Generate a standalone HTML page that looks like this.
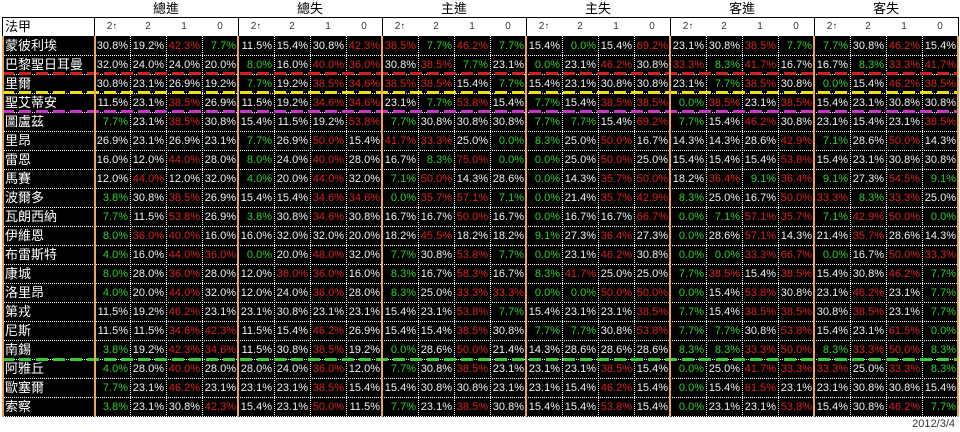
<!DOCTYPE html>
<html><head><meta charset="utf-8">
<style>
html,body{margin:0;padding:0;background:#fff;width:960px;height:432px;overflow:hidden;position:relative}
svg{position:absolute;left:0;top:0}
table{position:absolute;left:2px;border-collapse:separate;border-spacing:0;table-layout:fixed;width:956px}
table.h{top:0}
table.h td{padding:0;text-align:center;white-space:nowrap;overflow:hidden}
table.h tr.a td{height:17px;font:13px "Liberation Sans","Noto Sans CJK TC",sans-serif;line-height:17px;color:#000}
table.h tr.b td{height:18px;padding-top:1px;font:10px "Liberation Sans","DejaVu Sans",sans-serif;line-height:18px;color:#333;vertical-align:top}
table.h tr.b td.t{font:13px "Liberation Sans","Noto Sans CJK TC",sans-serif;line-height:18px;color:#000;text-align:left;padding-left:3px}
table.d{top:37px}
table.d td{height:19px;padding:0 2px 0 0;vertical-align:top;text-align:right;color:#f2f2f2;font:11px "Liberation Sans",sans-serif;line-height:18px;white-space:nowrap;overflow:hidden}
table.d td.t{text-align:left;padding:0 0 0 3px;font:13px "Liberation Sans","Noto Sans CJK TC",sans-serif;line-height:18px;color:#fff}
table.d td.r{color:#d82222}
table.d td.g{color:#33cc33}
.date{position:absolute;right:5px;top:418px;font:11px "Liberation Sans",sans-serif;line-height:13px;color:#333}
</style></head><body>
<svg width="960" height="432" viewBox="0 0 960 432">
<rect x="2" y="36" width="956" height="381" fill="#000"/>
<g stroke="#000" stroke-width="1" shape-rendering="crispEdges">
<line x1="2" y1="17.5" x2="959" y2="17.5"/>
<line x1="2.5" y1="17" x2="2.5" y2="36"/>
<line x1="94.5" y1="17" x2="94.5" y2="36"/>
<line x1="238.5" y1="17" x2="238.5" y2="36"/>
<line x1="382.5" y1="17" x2="382.5" y2="36"/>
<line x1="526.5" y1="17" x2="526.5" y2="36"/>
<line x1="670.5" y1="17" x2="670.5" y2="36"/>
<line x1="814.5" y1="17" x2="814.5" y2="36"/>
<line x1="958.5" y1="17" x2="958.5" y2="36"/>
</g>
<g stroke="#fff" stroke-width="1" stroke-dasharray="1 1" shape-rendering="crispEdges">
<line x1="2" y1="55.5" x2="958" y2="55.5"/>
<line x1="2" y1="74.5" x2="958" y2="74.5"/>
<line x1="2" y1="93.5" x2="958" y2="93.5"/>
<line x1="2" y1="112.5" x2="958" y2="112.5"/>
<line x1="2" y1="131.5" x2="958" y2="131.5"/>
<line x1="2" y1="150.5" x2="958" y2="150.5"/>
<line x1="2" y1="169.5" x2="958" y2="169.5"/>
<line x1="2" y1="188.5" x2="958" y2="188.5"/>
<line x1="2" y1="207.5" x2="958" y2="207.5"/>
<line x1="2" y1="226.5" x2="958" y2="226.5"/>
<line x1="2" y1="245.5" x2="958" y2="245.5"/>
<line x1="2" y1="264.5" x2="958" y2="264.5"/>
<line x1="2" y1="283.5" x2="958" y2="283.5"/>
<line x1="2" y1="302.5" x2="958" y2="302.5"/>
<line x1="2" y1="321.5" x2="958" y2="321.5"/>
<line x1="2" y1="340.5" x2="958" y2="340.5"/>
<line x1="2" y1="359.5" x2="958" y2="359.5"/>
<line x1="2" y1="378.5" x2="958" y2="378.5"/>
<line x1="2" y1="397.5" x2="958" y2="397.5"/>
<line x1="2" y1="416.5" x2="958" y2="416.5"/>
<line x1="130.5" y1="36" x2="130.5" y2="417"/>
<line x1="166.5" y1="36" x2="166.5" y2="417"/>
<line x1="202.5" y1="36" x2="202.5" y2="417"/>
<line x1="274.5" y1="36" x2="274.5" y2="417"/>
<line x1="310.5" y1="36" x2="310.5" y2="417"/>
<line x1="346.5" y1="36" x2="346.5" y2="417"/>
<line x1="418.5" y1="36" x2="418.5" y2="417"/>
<line x1="454.5" y1="36" x2="454.5" y2="417"/>
<line x1="490.5" y1="36" x2="490.5" y2="417"/>
<line x1="562.5" y1="36" x2="562.5" y2="417"/>
<line x1="598.5" y1="36" x2="598.5" y2="417"/>
<line x1="634.5" y1="36" x2="634.5" y2="417"/>
<line x1="706.5" y1="36" x2="706.5" y2="417"/>
<line x1="742.5" y1="36" x2="742.5" y2="417"/>
<line x1="778.5" y1="36" x2="778.5" y2="417"/>
<line x1="850.5" y1="36" x2="850.5" y2="417"/>
<line x1="886.5" y1="36" x2="886.5" y2="417"/>
<line x1="922.5" y1="36" x2="922.5" y2="417"/>
</g>
<g stroke-width="3" stroke-dasharray="12 5" shape-rendering="crispEdges">
<line x1="2" y1="73.5" x2="958" y2="73.5" stroke="#cc2222"/>
<line x1="2" y1="92.5" x2="958" y2="92.5" stroke="#f0e010"/>
<line x1="2" y1="111.5" x2="958" y2="111.5" stroke="#cc33cc"/>
<line x1="2" y1="359.5" x2="958" y2="359.5" stroke="#33cc33"/>
</g>
<g fill="#eca45a">
<rect x="2" y="36" width="2" height="381"/>
<rect x="94" y="36" width="2" height="381"/>
<rect x="237" y="36" width="2" height="381"/>
<rect x="381" y="36" width="2" height="381"/>
<rect x="525" y="36" width="2" height="381"/>
<rect x="669" y="36" width="2" height="381"/>
<rect x="813" y="36" width="2" height="381"/>
<rect x="957" y="36" width="2" height="381"/>
</g>
</svg>

<table class="h">
<colgroup><col style="width:92px"><col span="24" style="width:36px"></colgroup>
<tr class="a"><td></td><td colspan="4">總進</td><td colspan="4">總失</td><td colspan="4">主進</td><td colspan="4">主失</td><td colspan="4">客進</td><td colspan="4">客失</td></tr>
<tr class="b"><td class="t">法甲</td><td>2↑</td><td>2</td><td>1</td><td>0</td><td>2↑</td><td>2</td><td>1</td><td>0</td><td>2↑</td><td>2</td><td>1</td><td>0</td><td>2↑</td><td>2</td><td>1</td><td>0</td><td>2↑</td><td>2</td><td>1</td><td>0</td><td>2↑</td><td>2</td><td>1</td><td>0</td></tr>
</table>

<table class="d">
<colgroup><col style="width:92px"><col span="24" style="width:36px"></colgroup>
<tr><td class="t">蒙彼利埃</td><td>30.8%</td><td>19.2%</td><td class="r">42.3%</td><td class="g">7.7%</td><td>11.5%</td><td>15.4%</td><td>30.8%</td><td class="r">42.3%</td><td class="r">38.5%</td><td class="g">7.7%</td><td class="r">46.2%</td><td class="g">7.7%</td><td>15.4%</td><td class="g">0.0%</td><td>15.4%</td><td class="r">69.2%</td><td>23.1%</td><td>30.8%</td><td class="r">38.5%</td><td class="g">7.7%</td><td class="g">7.7%</td><td>30.8%</td><td class="r">46.2%</td><td>15.4%</td></tr>
<tr><td class="t">巴黎聖日耳曼</td><td>32.0%</td><td>24.0%</td><td>24.0%</td><td>20.0%</td><td class="g">8.0%</td><td>16.0%</td><td class="r">40.0%</td><td class="r">36.0%</td><td>30.8%</td><td class="r">38.5%</td><td class="g">7.7%</td><td>23.1%</td><td class="g">0.0%</td><td>23.1%</td><td class="r">46.2%</td><td>30.8%</td><td class="r">33.3%</td><td class="g">8.3%</td><td class="r">41.7%</td><td>16.7%</td><td>16.7%</td><td class="g">8.3%</td><td class="r">33.3%</td><td class="r">41.7%</td></tr>
<tr><td class="t">里爾</td><td>30.8%</td><td>23.1%</td><td>26.9%</td><td>19.2%</td><td class="g">7.7%</td><td>19.2%</td><td class="r">38.5%</td><td class="r">34.6%</td><td class="r">38.5%</td><td class="r">38.5%</td><td>15.4%</td><td class="g">7.7%</td><td>15.4%</td><td>23.1%</td><td>30.8%</td><td>30.8%</td><td>23.1%</td><td class="g">7.7%</td><td class="r">38.5%</td><td>30.8%</td><td class="g">0.0%</td><td>15.4%</td><td class="r">46.2%</td><td class="r">38.5%</td></tr>
<tr><td class="t">聖艾蒂安</td><td>11.5%</td><td>23.1%</td><td class="r">38.5%</td><td>26.9%</td><td>11.5%</td><td>19.2%</td><td class="r">34.6%</td><td class="r">34.6%</td><td>23.1%</td><td class="g">7.7%</td><td class="r">53.8%</td><td>15.4%</td><td class="g">7.7%</td><td>15.4%</td><td class="r">38.5%</td><td class="r">38.5%</td><td class="g">0.0%</td><td class="r">38.5%</td><td>23.1%</td><td class="r">38.5%</td><td>15.4%</td><td>23.1%</td><td>30.8%</td><td>30.8%</td></tr>
<tr><td class="t">圖盧茲</td><td class="g">7.7%</td><td>23.1%</td><td class="r">38.5%</td><td>30.8%</td><td>15.4%</td><td>11.5%</td><td>19.2%</td><td class="r">53.8%</td><td class="g">7.7%</td><td>30.8%</td><td>30.8%</td><td>30.8%</td><td class="g">7.7%</td><td class="g">7.7%</td><td>15.4%</td><td class="r">69.2%</td><td class="g">7.7%</td><td>15.4%</td><td class="r">46.2%</td><td>30.8%</td><td>23.1%</td><td>15.4%</td><td>23.1%</td><td class="r">38.5%</td></tr>
<tr><td class="t">里昂</td><td>26.9%</td><td>23.1%</td><td>26.9%</td><td>23.1%</td><td class="g">7.7%</td><td>26.9%</td><td class="r">50.0%</td><td>15.4%</td><td class="r">41.7%</td><td class="r">33.3%</td><td>25.0%</td><td class="g">0.0%</td><td class="g">8.3%</td><td>25.0%</td><td class="r">50.0%</td><td>16.7%</td><td>14.3%</td><td>14.3%</td><td>28.6%</td><td class="r">42.9%</td><td class="g">7.1%</td><td>28.6%</td><td class="r">50.0%</td><td>14.3%</td></tr>
<tr><td class="t">雷恩</td><td>16.0%</td><td>12.0%</td><td class="r">44.0%</td><td>28.0%</td><td class="g">8.0%</td><td>24.0%</td><td class="r">40.0%</td><td>28.0%</td><td>16.7%</td><td class="g">8.3%</td><td class="r">75.0%</td><td class="g">0.0%</td><td class="g">0.0%</td><td>25.0%</td><td class="r">50.0%</td><td>25.0%</td><td>15.4%</td><td>15.4%</td><td>15.4%</td><td class="r">53.8%</td><td>15.4%</td><td>23.1%</td><td>30.8%</td><td>30.8%</td></tr>
<tr><td class="t">馬賽</td><td>12.0%</td><td class="r">44.0%</td><td>12.0%</td><td>32.0%</td><td class="g">4.0%</td><td>20.0%</td><td class="r">44.0%</td><td>32.0%</td><td class="g">7.1%</td><td class="r">50.0%</td><td>14.3%</td><td>28.6%</td><td class="g">0.0%</td><td>14.3%</td><td class="r">35.7%</td><td class="r">50.0%</td><td>18.2%</td><td class="r">36.4%</td><td class="g">9.1%</td><td class="r">36.4%</td><td class="g">9.1%</td><td>27.3%</td><td class="r">54.5%</td><td class="g">9.1%</td></tr>
<tr><td class="t">波爾多</td><td class="g">3.8%</td><td>30.8%</td><td class="r">38.5%</td><td>26.9%</td><td>15.4%</td><td>15.4%</td><td class="r">34.6%</td><td class="r">34.6%</td><td class="g">0.0%</td><td class="r">35.7%</td><td class="r">57.1%</td><td class="g">7.1%</td><td class="g">0.0%</td><td>21.4%</td><td class="r">35.7%</td><td class="r">42.9%</td><td class="g">8.3%</td><td>25.0%</td><td>16.7%</td><td class="r">50.0%</td><td class="r">33.3%</td><td class="g">8.3%</td><td class="r">33.3%</td><td>25.0%</td></tr>
<tr><td class="t">瓦朗西納</td><td class="g">7.7%</td><td>11.5%</td><td class="r">53.8%</td><td>26.9%</td><td class="g">3.8%</td><td>30.8%</td><td class="r">34.6%</td><td>30.8%</td><td>16.7%</td><td>16.7%</td><td class="r">50.0%</td><td>16.7%</td><td class="g">0.0%</td><td>16.7%</td><td>16.7%</td><td class="r">66.7%</td><td class="g">0.0%</td><td class="g">7.1%</td><td class="r">57.1%</td><td class="r">35.7%</td><td class="g">7.1%</td><td class="r">42.9%</td><td class="r">50.0%</td><td class="g">0.0%</td></tr>
<tr><td class="t">伊維恩</td><td class="g">8.0%</td><td class="r">36.0%</td><td class="r">40.0%</td><td>16.0%</td><td>16.0%</td><td>32.0%</td><td>32.0%</td><td>20.0%</td><td>18.2%</td><td class="r">45.5%</td><td>18.2%</td><td>18.2%</td><td class="g">9.1%</td><td>27.3%</td><td class="r">36.4%</td><td>27.3%</td><td class="g">0.0%</td><td>28.6%</td><td class="r">57.1%</td><td>14.3%</td><td>21.4%</td><td class="r">35.7%</td><td>28.6%</td><td>14.3%</td></tr>
<tr><td class="t">布雷斯特</td><td class="g">4.0%</td><td>16.0%</td><td class="r">44.0%</td><td class="r">36.0%</td><td class="g">0.0%</td><td>20.0%</td><td class="r">48.0%</td><td>32.0%</td><td class="g">7.7%</td><td>30.8%</td><td class="r">53.8%</td><td class="g">7.7%</td><td class="g">0.0%</td><td>23.1%</td><td class="r">46.2%</td><td>30.8%</td><td class="g">0.0%</td><td class="g">0.0%</td><td class="r">33.3%</td><td class="r">66.7%</td><td class="g">0.0%</td><td>16.7%</td><td class="r">50.0%</td><td class="r">33.3%</td></tr>
<tr><td class="t">康城</td><td class="g">8.0%</td><td>28.0%</td><td class="r">36.0%</td><td>28.0%</td><td>12.0%</td><td class="r">36.0%</td><td class="r">36.0%</td><td>16.0%</td><td class="g">8.3%</td><td>16.7%</td><td class="r">58.3%</td><td>16.7%</td><td class="g">8.3%</td><td class="r">41.7%</td><td>25.0%</td><td>25.0%</td><td class="g">7.7%</td><td class="r">38.5%</td><td>15.4%</td><td class="r">38.5%</td><td>15.4%</td><td>30.8%</td><td class="r">46.2%</td><td class="g">7.7%</td></tr>
<tr><td class="t">洛里昂</td><td class="g">4.0%</td><td>20.0%</td><td class="r">44.0%</td><td>32.0%</td><td>12.0%</td><td>24.0%</td><td class="r">36.0%</td><td>28.0%</td><td class="g">8.3%</td><td>25.0%</td><td class="r">33.3%</td><td class="r">33.3%</td><td class="g">0.0%</td><td class="g">0.0%</td><td class="r">50.0%</td><td class="r">50.0%</td><td class="g">0.0%</td><td>15.4%</td><td class="r">53.8%</td><td>30.8%</td><td>23.1%</td><td class="r">46.2%</td><td>23.1%</td><td class="g">7.7%</td></tr>
<tr><td class="t">第戎</td><td>11.5%</td><td>19.2%</td><td class="r">46.2%</td><td>23.1%</td><td>23.1%</td><td>30.8%</td><td>23.1%</td><td>23.1%</td><td>15.4%</td><td>23.1%</td><td class="r">53.8%</td><td class="g">7.7%</td><td>15.4%</td><td>23.1%</td><td>23.1%</td><td class="r">38.5%</td><td class="g">7.7%</td><td>15.4%</td><td class="r">38.5%</td><td class="r">38.5%</td><td>30.8%</td><td class="r">38.5%</td><td>23.1%</td><td class="g">7.7%</td></tr>
<tr><td class="t">尼斯</td><td>11.5%</td><td>11.5%</td><td class="r">34.6%</td><td class="r">42.3%</td><td>11.5%</td><td>15.4%</td><td class="r">46.2%</td><td>26.9%</td><td>15.4%</td><td>15.4%</td><td class="r">38.5%</td><td>30.8%</td><td class="g">7.7%</td><td class="g">7.7%</td><td>30.8%</td><td class="r">53.8%</td><td class="g">7.7%</td><td class="g">7.7%</td><td>30.8%</td><td class="r">53.8%</td><td>15.4%</td><td>23.1%</td><td class="r">61.5%</td><td class="g">0.0%</td></tr>
<tr><td class="t">南錫</td><td class="g">3.8%</td><td>19.2%</td><td class="r">42.3%</td><td class="r">34.6%</td><td>11.5%</td><td>30.8%</td><td class="r">38.5%</td><td>19.2%</td><td class="g">0.0%</td><td>28.6%</td><td class="r">50.0%</td><td>21.4%</td><td>14.3%</td><td>28.6%</td><td>28.6%</td><td>28.6%</td><td class="g">8.3%</td><td class="g">8.3%</td><td class="r">33.3%</td><td class="r">50.0%</td><td class="g">8.3%</td><td class="r">33.3%</td><td class="r">50.0%</td><td class="g">8.3%</td></tr>
<tr><td class="t">阿雅丘</td><td class="g">4.0%</td><td>28.0%</td><td class="r">40.0%</td><td>28.0%</td><td>28.0%</td><td>24.0%</td><td class="r">36.0%</td><td>12.0%</td><td class="g">7.7%</td><td>30.8%</td><td class="r">38.5%</td><td>23.1%</td><td>23.1%</td><td>23.1%</td><td class="r">38.5%</td><td>15.4%</td><td class="g">0.0%</td><td>25.0%</td><td class="r">41.7%</td><td class="r">33.3%</td><td class="r">33.3%</td><td>25.0%</td><td class="r">33.3%</td><td class="g">8.3%</td></tr>
<tr><td class="t">歐塞爾</td><td class="g">7.7%</td><td>23.1%</td><td class="r">46.2%</td><td>23.1%</td><td>23.1%</td><td>23.1%</td><td class="r">38.5%</td><td>15.4%</td><td>15.4%</td><td>30.8%</td><td>30.8%</td><td>23.1%</td><td>23.1%</td><td>15.4%</td><td class="r">46.2%</td><td>15.4%</td><td class="g">0.0%</td><td>15.4%</td><td class="r">61.5%</td><td>23.1%</td><td>23.1%</td><td>30.8%</td><td>30.8%</td><td>15.4%</td></tr>
<tr><td class="t">索察</td><td class="g">3.8%</td><td>23.1%</td><td>30.8%</td><td class="r">42.3%</td><td>15.4%</td><td>23.1%</td><td class="r">50.0%</td><td>11.5%</td><td class="g">7.7%</td><td>23.1%</td><td class="r">38.5%</td><td>30.8%</td><td>15.4%</td><td>15.4%</td><td class="r">53.8%</td><td>15.4%</td><td class="g">0.0%</td><td>23.1%</td><td>23.1%</td><td class="r">53.8%</td><td>15.4%</td><td>30.8%</td><td class="r">46.2%</td><td class="g">7.7%</td></tr>
</table>

<div class="date">2012/3/4</div>
</body></html>
